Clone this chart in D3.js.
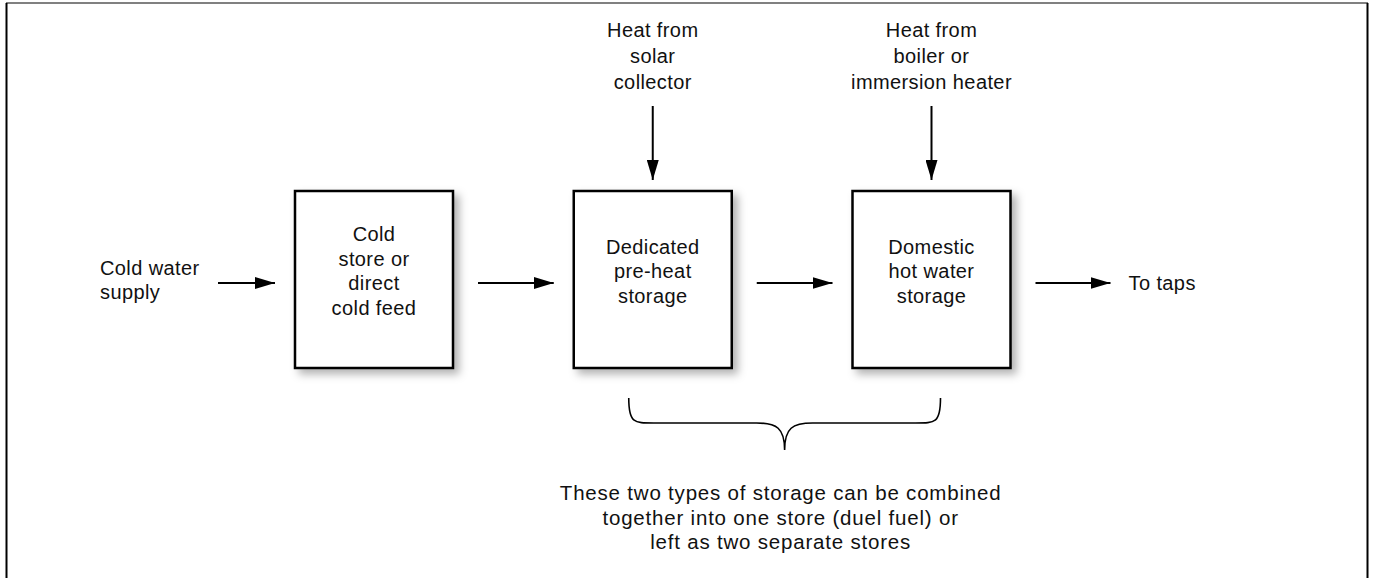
<!DOCTYPE html>
<html>
<head>
<meta charset="utf-8">
<script src="https://cdn.jsdelivr.net/npm/d3@7"></script>
<style>
  body { margin: 0; background: #fff; }
  svg { display: block; }
  text { font-family: "Liberation Sans", Arial, sans-serif; font-size: 20px; fill: #111; letter-spacing: 0.4px; }
  text.note { font-size: 20.5px; letter-spacing: 0.8px; }
</style>
</head>
<body>
<svg width="1375" height="578"></svg>
<script>
// stages of the hot water system, left to right
const stages = ['cold', 'preheat', 'dhw'];
const stageLines = [
    ['Cold', 'store or', 'direct', 'cold feed'],
    ['Dedicated', 'pre-heat', 'storage'],
    ['Domestic', 'hot water', 'storage']
];
// heat input above each stage (none for the cold store)
const heatLines = [
    [],
    ['Heat from', 'solar', 'collector'],
    ['Heat from', 'boiler or', 'immersion heater']
];
const inputLines = ['Cold water', 'supply'];
const outputLines = ['To taps'];
// which stages the brace groups
const braceStages = ['preheat', 'dhw'];
const noteLines = [
    'These two types of storage can be combined',
    'together into one store (duel fuel) or',
    'left as two separate stores'
];

const svg = d3.select('svg');

const xScale = d3.scalePoint()
    .domain(stages)
    .range([374, 931.5]);

const boxW = 158;
const boxTop = 191;
const boxBottom = 368;
const flowY = 283;

const defs = svg.append('defs');
const shadow = defs.append('filter')
    .attr('id', 'shadow')
    .attr('x', '-20%').attr('y', '-20%')
    .attr('width', '150%').attr('height', '150%');
shadow.append('feDropShadow')
    .attr('dx', 5).attr('dy', 5)
    .attr('stdDeviation', 4)
    .attr('flood-color', '#000')
    .attr('flood-opacity', 0.3);

defs.append('marker')
    .attr('id', 'arrow')
    .attr('viewBox', '0 0 20 12')
    .attr('refX', 20).attr('refY', 6)
    .attr('markerWidth', 20).attr('markerHeight', 12)
    .attr('markerUnits', 'userSpaceOnUse')
    .attr('orient', 'auto')
  .append('path')
    .attr('d', 'M0,0 L20,6 L0,12 Z')
    .attr('fill', '#000');

// frame
svg.append('line')
    .attr('x1', 6).attr('x2', 1368)
    .attr('y1', 3).attr('y2', 3)
    .attr('stroke', '#808080').attr('stroke-width', 2);
svg.append('path')
    .attr('d', 'M6.5,3 V578 M1367.5,3 V578')
    .attr('fill', 'none')
    .attr('stroke', '#000').attr('stroke-width', 2);

// boxes
const boxes = svg.selectAll('.box')
    .data(stages)
    .enter()
    .append('g')
    .attr('class', 'box');

boxes.append('rect')
    .attr('x', d => xScale(d) - boxW / 2)
    .attr('y', boxTop)
    .attr('width', boxW)
    .attr('height', boxBottom - boxTop)
    .attr('fill', '#fff')
    .attr('stroke', '#000')
    .attr('stroke-width', 2.5)
    .attr('filter', 'url(#shadow)');

function multiline(sel, lines, x, firstBaseline, lh, anchor) {
    const t = sel.append('text')
        .attr('text-anchor', anchor || 'middle');
    t.selectAll('tspan')
        .data(lines)
        .enter()
        .append('tspan')
        .attr('x', x)
        .attr('y', (d, i) => firstBaseline + i * lh)
        .text(d => d);
    return t;
}

stages.forEach((s, i) => {
    const lines = stageLines[i];
    const lh = 24.5;
    const first = 278 - (lines.length - 1) * lh / 2;
    multiline(svg, lines, xScale(s), first, lh);

    const heat = heatLines[i];
    if (heat.length) {
        multiline(svg, heat, xScale(s), 37, 26);
        svg.append('line')
            .attr('x1', xScale(s)).attr('x2', xScale(s))
            .attr('y1', 106).attr('y2', 180)
            .attr('stroke', '#000').attr('stroke-width', 2)
            .attr('marker-end', 'url(#arrow)');
    }
});

// horizontal flow arrows
const flowArrows = [
    [218, xScale(stages[0]) - boxW / 2 - 20]
];
stages.forEach((s, i) => {
    const start = xScale(s) + boxW / 2 + 25;
    const end = i < stages.length - 1 ? xScale(stages[i + 1]) - boxW / 2 - 20 : start + 75;
    flowArrows.push([start, end]);
});

svg.selectAll('.flow')
    .data(flowArrows)
    .enter()
    .append('line')
    .attr('class', 'flow')
    .attr('x1', d => d[0]).attr('x2', d => d[1])
    .attr('y1', flowY).attr('y2', flowY)
    .attr('stroke', '#000').attr('stroke-width', 2)
    .attr('marker-end', 'url(#arrow)');

multiline(svg, inputLines, 100, 275, 24, 'start');
multiline(svg, outputLines, flowArrows[flowArrows.length - 1][1] + 18, 290, 24, 'start');

// brace under the two storage boxes
const bx0 = xScale(braceStages[0]) - 24;
const bx1 = xScale(braceStages[1]) + 9;
const bmid = (bx0 + bx1) / 2;
const bTop = 398, bMid = 423, bTip = 450;
svg.append('path')
    .attr('d', `M${bx0},${bTop} C${bx0},${bMid} ${bx0 + 5},${bMid} ${bx0 + 25},${bMid}
                L${bmid - 28},${bMid} C${bmid - 8},${bMid} ${bmid},${bMid + 5} ${bmid},${bTip}
                C${bmid},${bMid + 5} ${bmid + 8},${bMid} ${bmid + 28},${bMid}
                L${bx1 - 25},${bMid} C${bx1 - 5},${bMid} ${bx1},${bMid} ${bx1},${bTop}`)
    .attr('fill', 'none')
    .attr('stroke', '#000')
    .attr('stroke-width', 1.6);

multiline(svg, noteLines, bmid - 4, 500, 24.5).attr('class', 'note');
</script>
</body>
</html>
